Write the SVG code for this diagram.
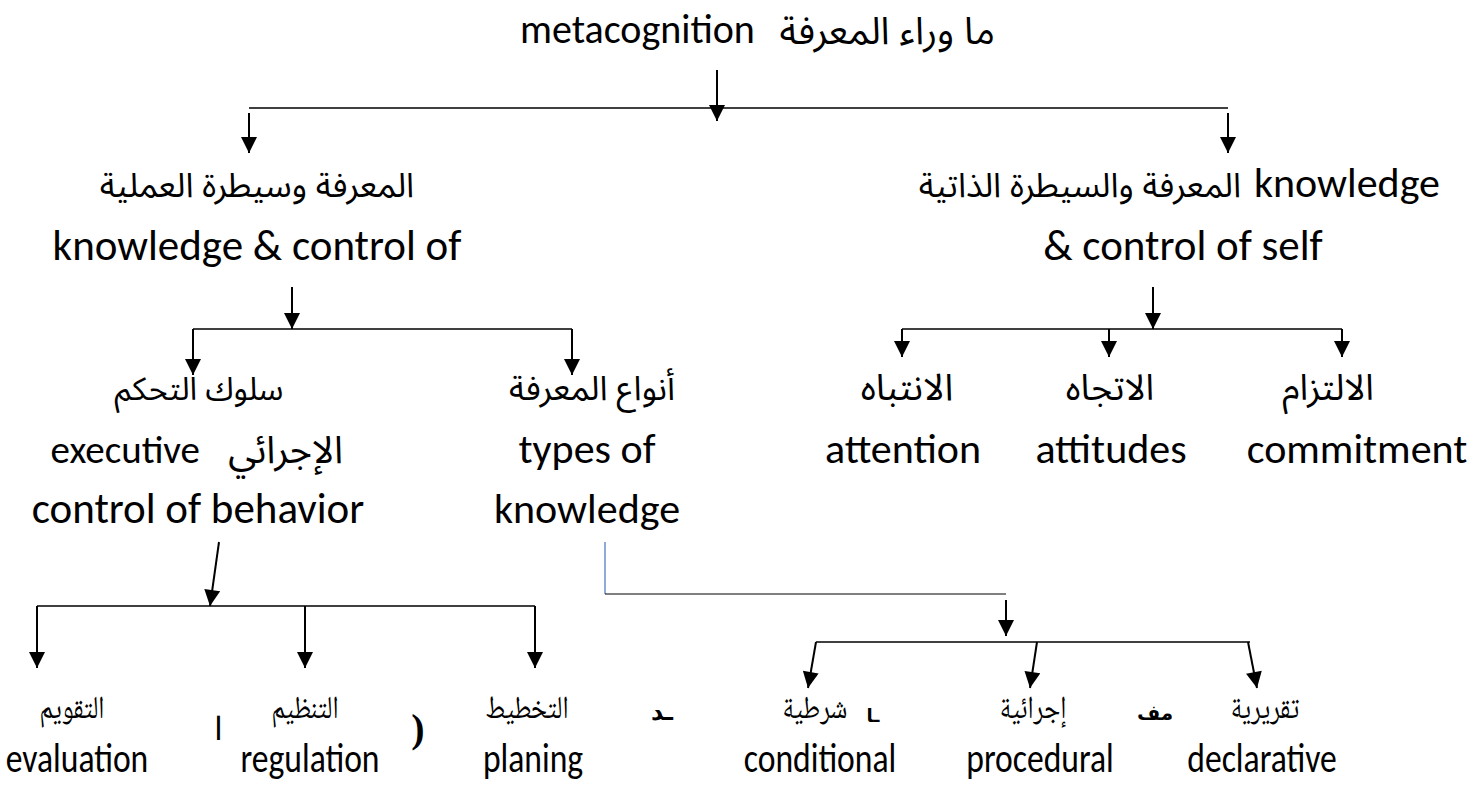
<svg xmlns="http://www.w3.org/2000/svg" width="1472" height="787" viewBox="0 0 1472 787">
<style>
.en{font-family:Carlito,Lato,"Open Sans",sans-serif;font-size:42px;fill:#000}
.ar{font-family:"Noto Sans Arabic","DejaVu Sans",sans-serif;font-size:34px;fill:#000}
.arb{font-family:"Noto Naskh Arabic","DejaVu Sans",sans-serif;font-size:32px;fill:#000}
.art{font-family:"DejaVu Sans",sans-serif;font-size:24px;font-weight:bold;fill:#000}
.ln{stroke:#000;stroke-width:1.6;fill:none}
.ar2{stroke:#000;stroke-width:2;fill:none;marker-end:url(#ah)}
</style>
<defs>
<marker id="ah" viewBox="0 0 10 10" refX="10" refY="5" markerUnits="userSpaceOnUse" markerWidth="17" markerHeight="16" orient="auto">
<path d="M0,0 L10,5 L0,10 z" fill="#000"/>
</marker>
</defs>
<g id="connectors">
<line class="ar2" x1="717" y1="70" x2="717" y2="121"/>
<line class="ln" x1="249" y1="108" x2="1228" y2="108"/>
<line class="ar2" x1="249" y1="113" x2="249" y2="153"/>
<line class="ar2" x1="1228" y1="113" x2="1228" y2="153"/>
<line class="ar2" x1="292" y1="287" x2="292" y2="329"/>
<line class="ln" x1="193" y1="329" x2="572" y2="329"/>
<line class="ar2" x1="193" y1="329" x2="193" y2="375"/>
<line class="ar2" x1="572" y1="329" x2="572" y2="375"/>
<line class="ar2" x1="1153" y1="287" x2="1153" y2="329"/>
<line class="ln" x1="902" y1="329" x2="1342" y2="329"/>
<line class="ar2" x1="902" y1="329" x2="902" y2="357"/>
<line class="ar2" x1="1109" y1="329" x2="1109" y2="357"/>
<line class="ar2" x1="1342" y1="329" x2="1342" y2="357"/>
<line class="ar2" x1="219" y1="542" x2="210" y2="606"/>
<line class="ln" x1="37" y1="606" x2="535" y2="606"/>
<line class="ar2" x1="37" y1="606" x2="37" y2="668"/>
<line class="ar2" x1="305" y1="606" x2="305" y2="668"/>
<line class="ar2" x1="535" y1="606" x2="535" y2="668"/>
<line x1="605" y1="542" x2="605" y2="594" stroke="#4472C4" stroke-width="1.2"/>
<line class="ln" x1="605" y1="594" x2="1006" y2="594" style="stroke-width:1.2"/>
<line class="ar2" x1="1006" y1="600" x2="1006" y2="636"/>
<line class="ln" x1="816" y1="642" x2="1250" y2="642"/>
<line class="ar2" x1="816" y1="642" x2="808" y2="688"/>
<line class="ar2" x1="1037" y1="642" x2="1030" y2="688"/>
<line class="ar2" x1="1248" y1="642" x2="1257" y2="688"/>
</g>
<g id="n-root">
<text class="en" x="520" y="43" style="font-size:40px">metacognition</text>
<text class="ar" x="995" y="44" text-anchor="end" style="font-size:38px">ما وراء المعرفة</text>
</g>
<g id="n-task">
<text class="ar" x="257" y="197" text-anchor="middle">المعرفة وسيطرة العملية</text>
<text class="en" x="257" y="260" text-anchor="middle" style="font-size:43px">knowledge &amp; control of</text>
</g>
<g id="n-self">
<text class="ar" x="1241" y="197" text-anchor="end">المعرفة والسيطرة الذاتية</text>
<text class="en" x="1440" y="197" text-anchor="end">knowledge</text>
<text class="en" x="1183" y="260" text-anchor="middle" style="font-size:43px">&amp; control of self</text>
</g>
<g id="n-exec">
<text class="ar" x="199" y="400" text-anchor="middle" style="font-size:32px">سلوك التحكم</text>
<text class="en" x="200" y="463" text-anchor="end" style="font-size:39px">executive</text>
<text class="ar" x="343" y="463" text-anchor="end" style="font-size:38px">الإجرائي</text>
<text class="en" x="198" y="523" text-anchor="middle" style="font-size:43px">control of behavior</text>
</g>
<g id="n-types">
<text class="ar" x="592" y="400" text-anchor="middle">أنواع المعرفة</text>
<text class="en" x="587" y="463" text-anchor="middle">types of</text>
<text class="en" x="587" y="523" text-anchor="middle">knowledge</text>
</g>
<g id="n-attention">
<text class="ar" x="907" y="400" text-anchor="middle" style="font-size:37px">الانتباه</text>
<text class="en" x="903" y="463" text-anchor="middle">attention</text>
</g>
<g id="n-attitudes">
<text class="ar" x="1110" y="400" text-anchor="middle" style="font-size:36px">الاتجاه</text>
<text class="en" x="1111" y="463" text-anchor="middle">attitudes</text>
</g>
<g id="n-commitment">
<text class="ar" x="1328" y="400" text-anchor="middle" style="font-size:36px">الالتزام</text>
<text class="en" x="1357" y="463" text-anchor="middle">commitment</text>
</g>
<g id="n-evaluation">
<text class="arb" transform="translate(72,718) scale(0.8,1)" text-anchor="middle">التقويم</text>
<text class="en" transform="translate(77,772) scale(0.8,1)" text-anchor="middle">evaluation</text>
</g>
<g id="n-regulation">
<text class="arb" transform="translate(305,718) scale(0.8,1)" text-anchor="middle">التنظيم</text>
<text class="en" transform="translate(310,772) scale(0.8,1)" text-anchor="middle">regulation</text>
</g>
<g id="n-planing">
<text class="arb" transform="translate(527,718) scale(0.8,1)" text-anchor="middle">التخطيط</text>
<text class="en" transform="translate(533,772) scale(0.8,1)" text-anchor="middle">planing</text>
</g>
<g id="n-conditional">
<text class="arb" transform="translate(815,718) scale(0.8,1)" text-anchor="middle">شرطية</text>
<text class="en" transform="translate(820,772) scale(0.8,1)" text-anchor="middle">conditional</text>
</g>
<g id="n-procedural">
<text class="arb" transform="translate(1033,718) scale(0.8,1)" text-anchor="middle">إجرائية</text>
<text class="en" transform="translate(1040,772) scale(0.8,1)" text-anchor="middle">procedural</text>
</g>
<g id="n-declarative">
<text class="arb" transform="translate(1265,718) scale(0.8,1)" text-anchor="middle">تقريرية</text>
<text class="en" transform="translate(1262,772) scale(0.8,1)" text-anchor="middle">declarative</text>
</g>
<g id="stray">
<text x="218" y="740" text-anchor="middle" font-family="DejaVu Sans,sans-serif" font-size="32" font-weight="300">ا</text>
<text x="418" y="742" text-anchor="middle" font-family="Liberation Serif,serif" font-size="40" font-weight="bold">)</text>
<text class="art" x="662" y="720" text-anchor="middle">ـد</text>
<text class="art" x="873" y="722" text-anchor="middle" style="font-size:18px">ـا</text>
<text class="art" x="1155" y="720" text-anchor="middle" style="font-size:20px">مف</text>
</g>
</svg>
